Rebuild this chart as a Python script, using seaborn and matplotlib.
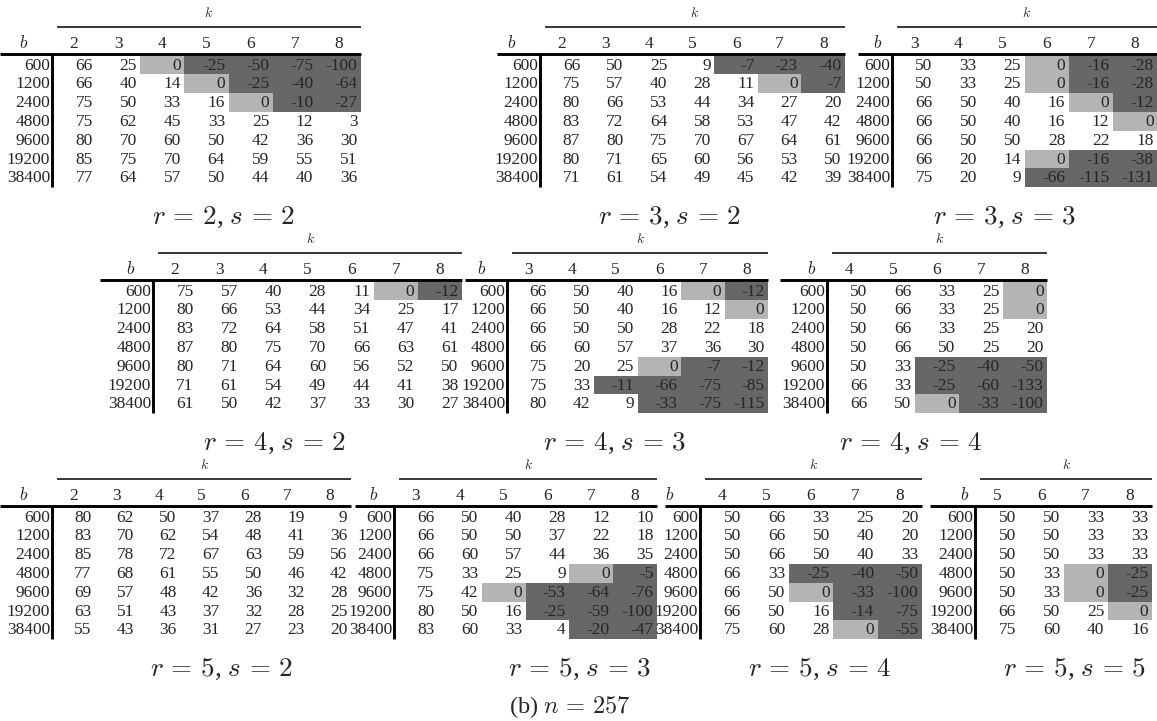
import numpy as np
import pandas as pd
import seaborn as sns
import matplotlib
matplotlib.use("Agg")
import matplotlib.pyplot as plt
from matplotlib.colors import ListedColormap, BoundaryNorm

# ---------------------------------------------------------------- data
b_values = [600, 1200, 2400, 4800, 9600, 19200, 38400]

k_r2s2 = [2, 3, 4, 5, 6, 7, 8]
v_r2s2 = [[66, 25, 0, -25, -50, -75, -100],
          [66, 40, 14, 0, -25, -40, -64],
          [75, 50, 33, 16, 0, -10, -27],
          [75, 62, 45, 33, 25, 12, 3],
          [80, 70, 60, 50, 42, 36, 30],
          [85, 75, 70, 64, 59, 55, 51],
          [77, 64, 57, 50, 44, 40, 36]]

k_r3s2 = [2, 3, 4, 5, 6, 7, 8]
v_r3s2 = [[66, 50, 25, 9, -7, -23, -40],
          [75, 57, 40, 28, 11, 0, -7],
          [80, 66, 53, 44, 34, 27, 20],
          [83, 72, 64, 58, 53, 47, 42],
          [87, 80, 75, 70, 67, 64, 61],
          [80, 71, 65, 60, 56, 53, 50],
          [71, 61, 54, 49, 45, 42, 39]]

k_r3s3 = [3, 4, 5, 6, 7, 8]
v_r3s3 = [[50, 33, 25, 0, -16, -28],
          [50, 33, 25, 0, -16, -28],
          [66, 50, 40, 16, 0, -12],
          [66, 50, 40, 16, 12, 0],
          [66, 50, 50, 28, 22, 18],
          [66, 20, 14, 0, -16, -38],
          [75, 20, 9, -66, -115, -131]]

k_r4s2 = [2, 3, 4, 5, 6, 7, 8]
v_r4s2 = [[75, 57, 40, 28, 11, 0, -12],
          [80, 66, 53, 44, 34, 25, 17],
          [83, 72, 64, 58, 51, 47, 41],
          [87, 80, 75, 70, 66, 63, 61],
          [80, 71, 64, 60, 56, 52, 50],
          [71, 61, 54, 49, 44, 41, 38],
          [61, 50, 42, 37, 33, 30, 27]]

k_r4s3 = [3, 4, 5, 6, 7, 8]
v_r4s3 = [[66, 50, 40, 16, 0, -12],
          [66, 50, 40, 16, 12, 0],
          [66, 50, 50, 28, 22, 18],
          [66, 60, 57, 37, 36, 30],
          [75, 20, 25, 0, -7, -12],
          [75, 33, -11, -66, -75, -85],
          [80, 42, 9, -33, -75, -115]]

k_r4s4 = [4, 5, 6, 7, 8]
v_r4s4 = [[50, 66, 33, 25, 0],
          [50, 66, 33, 25, 0],
          [50, 66, 33, 25, 20],
          [50, 66, 50, 25, 20],
          [50, 33, -25, -40, -50],
          [66, 33, -25, -60, -133],
          [66, 50, 0, -33, -100]]

k_r5s2 = [2, 3, 4, 5, 6, 7, 8]
v_r5s2 = [[80, 62, 50, 37, 28, 19, 9],
          [83, 70, 62, 54, 48, 41, 36],
          [85, 78, 72, 67, 63, 59, 56],
          [77, 68, 61, 55, 50, 46, 42],
          [69, 57, 48, 42, 36, 32, 28],
          [63, 51, 43, 37, 32, 28, 25],
          [55, 43, 36, 31, 27, 23, 20]]

k_r5s3 = [3, 4, 5, 6, 7, 8]
v_r5s3 = [[66, 50, 40, 28, 12, 10],
          [66, 50, 50, 37, 22, 18],
          [66, 60, 57, 44, 36, 35],
          [75, 33, 25, 9, 0, -5],
          [75, 42, 0, -53, -64, -76],
          [80, 50, 16, -25, -59, -100],
          [83, 60, 33, 4, -20, -47]]

k_r5s4 = [4, 5, 6, 7, 8]
v_r5s4 = [[50, 66, 33, 25, 20],
          [50, 66, 50, 40, 20],
          [50, 66, 50, 40, 33],
          [66, 33, -25, -40, -50],
          [66, 50, 0, -33, -100],
          [66, 50, 16, -14, -75],
          [75, 60, 28, 0, -55]]

k_r5s5 = [5, 6, 7, 8]
v_r5s5 = [[50, 50, 33, 33],
          [50, 50, 33, 33],
          [50, 50, 33, 33],
          [50, 33, 0, -25],
          [50, 33, 0, -25],
          [66, 50, 25, 0],
          [75, 60, 40, 16]]

tables = [
    (2, 2, k_r2s2, v_r2s2), (3, 2, k_r3s2, v_r3s2), (3, 3, k_r3s3, v_r3s3),
    (4, 2, k_r4s2, v_r4s2), (4, 3, k_r4s3, v_r4s3), (4, 4, k_r4s4, v_r4s4),
    (5, 2, k_r5s2, v_r5s2), (5, 3, k_r5s3, v_r5s3), (5, 4, k_r5s4, v_r5s4),
    (5, 5, k_r5s5, v_r5s5),
]

# ---------------------------------------------------------------- layout (pixels)
W, H = 1157, 721
# (r, s): row, left edge of cells, right edge, left end of header rule, x of "b", caption x
layout = {
    (2, 2): (0, 52, 361, 0, 24, 224),
    (3, 2): (0, 540, 845, 497, 512, 670),
    (3, 3): (0, 892, 1157, 858, 878, 1005),
    (4, 2): (1, 153, 462, 100, 131, 275),
    (4, 3): (1, 507, 768, 465, 482, 615),
    (4, 4): (1, 827, 1047, 780, 812, 911),
    (5, 2): (2, 52, 351, 0, 24, 222),
    (5, 3): (2, 394, 657, 355, 374, 580),
    (5, 4): (2, 700, 922, 665, 670, 820),
    (5, 5): (2, 975, 1152, 930, 965, 1075),
}
ROW_SHIFT = 226
RULE_Y = 54          # heavy rule under the header row
HEAD_Y = 43          # header text centre
KLINE_Y = 27         # rule under the k spanner
K_Y = 13             # k spanner text
CAP_Y = 217          # panel caption
ROW_H = 18.8

DARK, LIGHT = "#676767", "#b4b4b4"

sns.set_style("white")
plt.rcParams["font.family"] = ["Liberation Serif", "DejaVu Serif"]
plt.rcParams["mathtext.fontset"] = "cm"

fig = plt.figure(figsize=(W / 100, H / 100), dpi=100)

cmap = ListedColormap([DARK, LIGHT, "white"])
norm = BoundaryNorm([-1e6, -0.5, 0.5, 1e6], 3)
FS = 12.5
BASE = 4.6 / ROW_H   # baseline offset below the cell centre

for r, s, ks, vals in tables:
    row, x0, x1, rule_left, bx, capx = layout[(r, s)]
    dy = row * ROW_SHIFT
    top = RULE_Y + 1.5 + dy
    nc = len(ks)
    df = pd.DataFrame(vals, index=b_values, columns=ks)

    ax = fig.add_axes([x0 / W, 1 - (top + 7 * ROW_H) / H, (x1 - x0) / W, 7 * ROW_H / H])
    sns.heatmap(df, ax=ax, cmap=cmap, norm=norm, cbar=False,
                xticklabels=False, yticklabels=False, linewidths=0)
    ax.set_axis_off()

    cw = (x1 - x0) / nc
    px = lambda x: (x - x0) / cw
    py = lambda y: (y - top) / ROW_H

    # cell values, right aligned
    for i, b in enumerate(df.index):
        for j, k in enumerate(df.columns):
            ax.text(j + 1 - 3.5 / cw, i + 0.5 + BASE, str(df.loc[b, k]),
                    ha="right", va="baseline", fontsize=FS, clip_on=False)
        ax.text(px(x0 - 2), i + 0.5 + BASE, str(b), ha="right",
                va="baseline", fontsize=FS, clip_on=False)

    # column headers
    for j, k in enumerate(df.columns):
        ax.text(j + 0.5, py(HEAD_Y + dy) + BASE, str(k), ha="center",
                va="baseline", fontsize=FS, clip_on=False)
    ax.text(px(bx), py(HEAD_Y + dy), r"$b$", ha="center", va="center",
            fontsize=FS, clip_on=False)

    # k spanner and its rule
    kl = x0 + 5
    ax.text(px((kl + x1) / 2), py(K_Y + dy), r"$k$", ha="center", va="center",
            fontsize=FS - 2.5, clip_on=False)
    ax.plot([px(kl), px(x1)], [py(KLINE_Y + dy)] * 2, color="black", lw=1.1,
            clip_on=False, solid_capstyle="butt")

    # heavy header rule and vertical separator
    ax.plot([px(rule_left), px(x1)], [py(RULE_Y + dy)] * 2, color="black", lw=2.1,
            clip_on=False, solid_capstyle="butt")
    ax.plot([0, 0], [py(RULE_Y + dy), 7], color="black", lw=2.1,
            clip_on=False, solid_capstyle="butt")

    fig.text(capx / W, 1 - (CAP_Y + dy) / H, rf"$r\,=\,{r}$, $s\,=\,{s}$",
             ha="center", va="center", fontsize=19.5)

fig.text(570 / W, 1 - 707 / H, r"(b) $n\,=\,257$", ha="center", va="center",
         fontsize=17.5)

fig.savefig("out.png", dpi=100)
